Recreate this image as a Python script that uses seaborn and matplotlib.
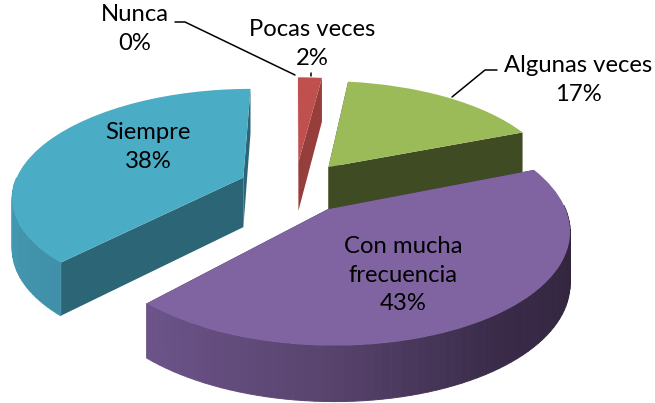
import numpy as np
import matplotlib
matplotlib.use("Agg")
import matplotlib.pyplot as plt
from matplotlib.transforms import Transform
import seaborn as sns

labels = ['Nunca', 'Pocas veces', 'Algunas veces', 'Con mucha\nfrecuencia', 'Siempre']
values = [0, 2, 17, 43, 38]
colors = ['#4F81BD', '#C0504D', '#9BBB59', '#8064A2', '#4BACC6']
wall_colors = ['#2C4A6E', '#963E3C', '#3F4B23', '#35293F', '#2C6575']
rim_palettes = [['#2C4A6E', '#2C4A6E'], ['#963E3C', '#963E3C'], ['#3F4B23', '#3F4B23'],
                ['#6C5489', '#5A4570', '#3A2C4A', '#33263F', '#2F2438'], ['#4198B0', '#4BA3BC', '#3F90A8']]
explode = [0.245] * 5
label_pos = [(135, 29), (312, 44), (578, 80), (403, 275), (148, 147)]

# viewing of the pie plane, in pixels of the 655x403 picture
CX, CY = 295, 187
SX, SY = 230, 106
PERSP = 0.163
THICK = 50


def project(xy):
    xy = np.atleast_2d(xy)
    w = 1 + PERSP * xy[:, 1]
    return np.column_stack([CX + SX * xy[:, 0] / w, CY - SY * xy[:, 1] / w])


class Tilt(Transform):
    input_dims = 2
    output_dims = 2

    def transform_non_affine(self, values):
        return project(values)


def drop(xy):
    # side height, a little less at the back
    out = project(xy)
    out[:, 1] += THICK * (1 - 0.1 * xy[:, 1])
    return out


sns.set_theme(style='white')
plt.rcParams['font.family'] = ['Lato', 'DejaVu Sans']

fig = plt.figure(figsize=(6.55, 4.03), dpi=100)
ax = fig.add_axes([0, 0, 1, 1])
wedges, _ = ax.pie(values, colors=colors, explode=explode, startangle=90, counterclock=False,
                   wedgeprops={'linewidth': 0, 'edgecolor': 'none'})
ax.set_aspect('auto')
ax.set_xlim(0, 655)
ax.set_ylim(403, 0)
ax.axis('off')

tilt = Tilt()
# back slices first, the big front one last
order = {1: 1, 0: 2, 2: 3, 4: 4, 3: 5}
for i, w in enumerate(wedges):
    z = order[i] * 10
    w.set_transform(tilt + ax.transData)
    w.set_zorder(z + 2)
    w.set_clip_on(False)
    if values[i] == 0:
        continue
    center = np.array(w.center)
    ang = np.radians(np.linspace(w.theta1, w.theta2, 80))
    arc = center + np.column_stack([np.cos(ang), np.sin(ang)])

    # the two flat cuts
    for end in (arc[0], arc[-1]):
        pts = np.array([center, end])
        top, bot = project(pts), drop(pts)
        ax.fill(np.r_[top[:, 0], bot[::-1, 0]], np.r_[top[:, 1], bot[::-1, 1]],
                color=wall_colors[i], lw=0, zorder=z)

    # outer side, only where it faces us
    shades = sns.blend_palette(rim_palettes[i], 79)
    top, bot = project(arc), drop(arc)
    for k in range(79):
        if np.sin(ang[k]) > 0.02:
            continue
        ax.fill([top[k, 0], top[k + 1, 0], bot[k + 1, 0], bot[k, 0]],
                [top[k, 1], top[k + 1, 1], bot[k + 1, 1], bot[k, 1]],
                color=shades[k], lw=0.7, zorder=z + 1)

# leader lines
ax.plot([175, 185, 295], [22, 22, 75], color='black', lw=1.1, zorder=70)
ax.plot([311, 311], [73, 76], color='black', lw=1.1, zorder=70)
ax.plot([497, 485, 452], [70, 70, 97], color='black', lw=1.1, zorder=70)

for name, val, (x, y) in zip(labels, values, label_pos):
    ax.text(x, y, f'{name}\n{val}%', ha='center', va='center', fontsize=17.2,
            linespacing=1.42, color='black', zorder=80)

fig.savefig('out.png', dpi=100)
